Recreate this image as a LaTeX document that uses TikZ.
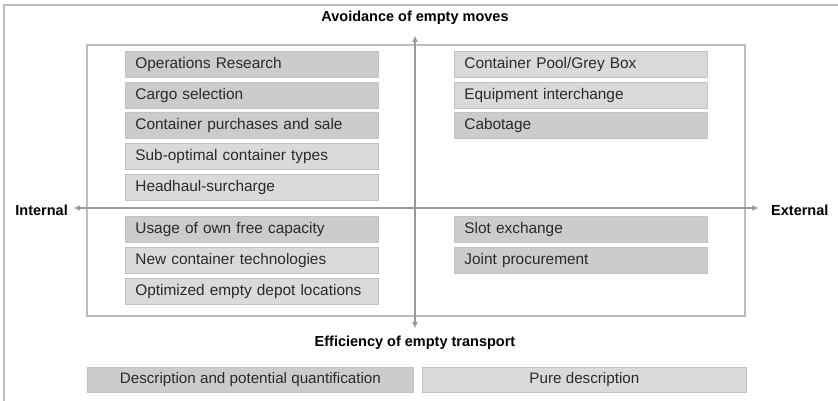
\documentclass[tikz,border=0pt]{standalone}
\usepackage{fontspec}
\setmainfont{Liberation Sans}
\usetikzlibrary{arrows.meta}
\definecolor{boxdark}{HTML}{CCCCCC}
\definecolor{boxlight}{HTML}{DADADA}
\definecolor{boxedge}{HTML}{C2C2C2}
\definecolor{framegray}{HTML}{BDBDBD}
\definecolor{axisgray}{HTML}{9A9A9A}
\definecolor{txt}{HTML}{2A2A2A}
\tikzset{
  item/.style={draw=boxedge, line width=0.8pt, minimum width=253pt, minimum height=26pt,
    inner xsep=10pt, inner ysep=0pt, text width=233pt, align=left, anchor=north west,
    font=\fontsize{15.4}{17}\selectfont, text=txt},
  dk/.style={item, fill=boxdark},
  lt/.style={item, fill=boxlight},
  legendbox/.style={draw=boxedge, line width=0.8pt, minimum height=25pt, inner sep=0pt,
    anchor=north west, font=\fontsize{15.2}{17}\selectfont, text=txt, align=center},
  axislabel/.style={font=\bfseries\fontsize{14.5}{16}\selectfont, text=black, inner sep=0pt},
  axis/.style={draw=axisgray, line width=1.6pt, {Triangle[length=6pt,width=5pt]}-{Triangle[length=6pt,width=5pt]}}
}
\begin{document}
\begin{tikzpicture}[x=1pt,y=-1pt]
\useasboundingbox (0,0) rectangle (838,401);
% outer frame (top and left edge)
\draw[framegray, line width=2pt] (4,401) -- (4,5) -- (838,5);
% inner quadrant frame
\draw[framegray, line width=1.6pt] (87,45) rectangle (745,316);
% items left-top
\node[dk] (or)  at (125,51)  {Operations Research};
\node[dk] (cs)  at (125,82)  {Cargo selection};
\node[dk] (cp)  at (125,112) {Container purchases and sale};
\node[lt] (so)  at (125,143) {Sub-optimal container types};
\node[lt] (hs)  at (125,174) {Headhaul-surcharge};
% items right-top
\node[lt] (pool) at (454,51)  {Container Pool/Grey Box};
\node[lt] (ei)   at (454,82)  {Equipment interchange};
\node[dk] (cab)  at (454,112) {Cabotage};
% items left-bottom
\node[dk] (us)  at (125,216) {Usage of own free capacity};
\node[lt] (nc)  at (125,247) {New container technologies};
\node[lt] (oe)  at (125,278) {Optimized empty depot locations};
% items right-bottom
\node[dk] (se)  at (454,216) {Slot exchange};
\node[dk] (jp)  at (454,247) {Joint procurement};
% axes
\coordinate (top) at (415,36);
\coordinate (bot) at (415,328);
\coordinate (lft) at (74,208);
\coordinate (rgt) at (758,208);
\draw[axis] (bot) -- (top);
\draw[axis] (lft) -- (rgt);
% axis labels
\node[axislabel] (avoid) at (415,18) {Avoidance of empty moves};
\node[axislabel, anchor=east] (int) at (68,210) {Internal};
\node[axislabel, anchor=west] (ext) at (771,210) {External};
\node[axislabel] (eff) at (415,343) {Efficiency of empty transport};
% legend
\node[legendbox, fill=boxdark, minimum width=326pt] (ldq) at (87,367) {Description and potential quantification};
\node[legendbox, fill=boxlight, minimum width=324pt] (lpd) at (422,367) {Pure description};
\end{tikzpicture}
\end{document}
